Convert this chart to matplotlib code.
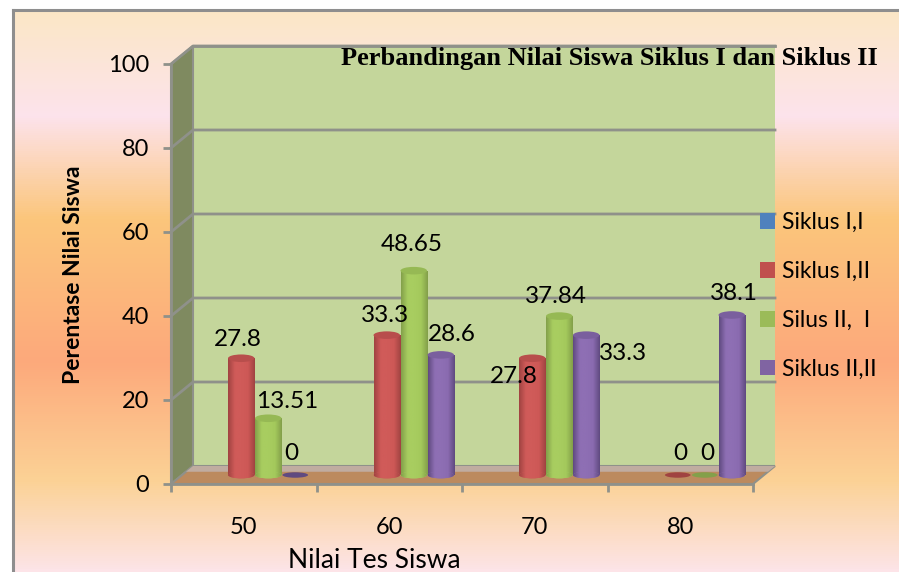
import numpy as np
import matplotlib
matplotlib.use("Agg")
import matplotlib.pyplot as plt
from matplotlib.colors import LinearSegmentedColormap
from matplotlib.patches import Ellipse, Patch, Polygon

# data
categories = ["50", "60", "70", "80"]
siklus_1_1 = [None, None, None, None]
siklus_1_2 = [27.8, 33.3, 27.8, 0]
silus_2_1 = [13.51, 48.65, 37.84, 0]
siklus_2_2 = [0, 28.6, 33.3, 38.1]
value_labels_1_2 = ["27.8", "33.3", "27.8", "0"]
value_labels_2_1 = ["13.51", "48.65", "37.84", "0"]
value_labels_2_2 = ["0", "28.6", "33.3", "38.1"]
legend_names = ["Siklus I,I", "Siklus I,II", "Silus II,  I", "Siklus II,II"]
y_ticks = [0, 20, 40, 60, 80, 100]

W, H = 899, 572
GRID = "#8f918a"
plt.rcParams["font.family"] = ["Lato", "DejaVu Sans"]

fig = plt.figure(figsize=(W / 100, H / 100), dpi=100, facecolor="white")

# page background, vertical gradient
bg = fig.add_axes([13 / W, 0, (W - 13) / W, (H - 10) / H], zorder=0)
stops = [(0.0, "#fbe7c6"), (0.187, "#fde3ec"), (0.37, "#fbc67c"), (0.625, "#fda97b"),
         (0.84, "#fbd296"), (1.0, "#fde4e8")]
bg_cmap = LinearSegmentedColormap.from_list("page", stops)
bg.imshow(np.linspace(0, 1, 562).reshape(-1, 1), cmap=bg_cmap, aspect="auto", vmin=0, vmax=1)
bg.set_xticks([])
bg.set_yticks([])
for side in ["right", "bottom"]:
    bg.spines[side].set_visible(False)
for side in ["left", "top"]:
    bg.spines[side].set_color("#8e8e8e")
    bg.spines[side].set_linewidth(2.2)

# main axes: 0-4 wide on x, 0-100 on y
ax = fig.add_axes([171 / W, (H - 484) / H, (753 - 171) / W, (484 - 64) / H], zorder=1)
ax.patch.set_visible(False)
ax.set_xlim(0, 4)
ax.set_ylim(0, 100)
DX = 22 / 145.5
DY = 18 / 4.2

# walls and floor
ax.add_patch(Polygon([(DX, DY), (4 + DX, DY), (4 + DX, 100 + DY), (DX, 100 + DY)],
                     fc="#c4d69b", ec="none", clip_on=False, zorder=1))
ax.add_patch(Polygon([(0, 0), (DX, DY), (DX, 100 + DY), (0, 100)],
                     fc="#7f8a60", ec=GRID, lw=1.5, clip_on=False, zorder=2))
ax.add_patch(Polygon([(0, 0), (DX, DY), (4 + DX, DY), (4, 0)],
                     fc="#bc8a5e", ec=GRID, lw=1.5, clip_on=False, zorder=2))
ax.add_patch(Polygon([(DX * 0.68, DY * 0.68), (DX, DY), (4 + DX, DY), (4 + DX * 0.68, DY * 0.68)],
                     fc="#c0aca0", ec="none", clip_on=False, zorder=2))

# grid lines
for v in y_ticks[1:]:
    ax.plot([0, DX, 4 + DX], [v, v + DY, v + DY], color=GRID, lw=2, clip_on=False, zorder=3)
ax.plot([DX, 4 + DX], [100 + DY, 100 + DY], color=GRID, lw=2, clip_on=False, zorder=3)

# bars as cylinders
step = 27 / 145.5
offx = DX / 2
offy = DY / 2
series = [siklus_1_1, siklus_1_2, silus_2_1, siklus_2_2]
value_labels = [None, value_labels_1_2, value_labels_2_1, value_labels_2_2]
shades = [("#385d8a", "#4f81bd", "#4f81bd", "#4f81bd", "#385d8a"),
          ("#a04341", "#d05b59", "#d05b59", "#cd5856", "#a04341"),
          ("#83a04a", "#a8cd60", "#a8cd60", "#a4c95c", "#83a04a"),
          ("#604a80", "#8e6fb4", "#8e6fb4", "#8a6bb0", "#604a80")]
cap_colors = ["#4575ad", "#b84e4c", "#96b954", "#7a5f9e"]
legend_colors = ["#4f81bd", "#c0504d", "#9bbb59", "#8064a2"]
label_offsets = {
    (1, 0): (-3, 19), (2, 0): (19, 17), (3, 0): (-4, 21),
    (1, 1): (-2, 20), (2, 1): (-2, 26), (3, 1): (11, 20),
    (1, 2): (-18, -18), (2, 2): (-3, 20), (3, 2): (37, -18),
    (1, 3): (3, 21), (2, 3): (3, 21), (3, 3): (2, 21),
}
for s, values in enumerate(series):
    cmap = LinearSegmentedColormap.from_list("cyl", shades[s])
    grad = np.linspace(0, 1, 64).reshape(1, -1)
    for c, v in enumerate(values):
        if v is None:
            continue
        xc = c + 0.5 + (s - 1.5) * step + offx
        x0, x1 = xc - step * 0.49, xc + step * 0.49
        z = 10 + s
        if v == 0:
            ax.add_patch(Ellipse((xc, offy), step * 0.95, 1.3, fc=shades[s][0], ec="none", zorder=z))
        else:
            bar = ax.bar(xc, v, step * 0.98, bottom=offy, color=shades[s][1], zorder=z)[0]
            im = ax.imshow(grad, cmap=cmap, aspect="auto", extent=[x0, x1, offy, offy + v], zorder=z)
            im.set_clip_path(bar)
            foot = Ellipse((xc, offy), step * 0.98, 1.6, fc=shades[s][1], ec="none", zorder=z)
            ax.add_patch(foot)
            im2 = ax.imshow(grad, cmap=cmap, aspect="auto", extent=[x0, x1, offy - 1, offy + 1], zorder=z)
            im2.set_clip_path(foot)
            ax.add_patch(Ellipse((xc, offy + v), step * 0.98, 1.8, fc=cap_colors[s], ec="none", zorder=z))
        ax.annotate(value_labels[s][c], (xc, offy + v), xytext=label_offsets[(s, c)],
                    textcoords="offset pixels", ha="center", va="center", fontsize=17.5,
                    color="black", zorder=30, annotation_clip=False)
ax.set_xlim(0, 4)
ax.set_ylim(0, 100)

# axes
for side in ["top", "right"]:
    ax.spines[side].set_visible(False)
for side in ["left", "bottom"]:
    ax.spines[side].set_color(GRID)
    ax.spines[side].set_linewidth(2)
    ax.spines[side].set_zorder(5)
ax.set_yticks(y_ticks)
ax.set_xticks(range(5))
ax.set_xticklabels([])
ax.set_xticks([i + 0.5 for i in range(4)], labels=categories, minor=True)
ax.tick_params(axis="both", which="major", color=GRID, width=2, length=5.5, labelsize=17)
ax.tick_params(axis="y", pad=10)
ax.tick_params(axis="x", which="minor", length=0, labelsize=17, pad=24)

fig.text(374 / W, 1 - 560 / H, "Nilai Tes Siswa", ha="center", va="center", fontsize=19, zorder=5)
fig.text(73 / W, 1 - 275 / H, "Perentase Nilai Siswa", ha="center", va="center", rotation=90,
         fontsize=16.5, fontweight="bold", zorder=5)
fig.text(609 / W, 1 - 59 / H, "Perbandingan Nilai Siswa Siklus I dan Siklus II", ha="center", va="center",
         fontsize=19, fontweight="bold", family="Liberation Serif", zorder=5)

# legend
handles = [Patch(fc=col, ec="none", label=name) for col, name in zip(legend_colors, legend_names)]
leg = fig.legend(handles=handles, loc="upper left", bbox_to_anchor=(760 / W, 1 - 212 / H), frameon=False,
                 fontsize=16.5, handlelength=0.65, handleheight=0.65, handletextpad=0.3,
                 labelspacing=1.22, borderpad=0, borderaxespad=0)
leg.set_zorder(6)

fig.savefig("out.png", dpi=100)
